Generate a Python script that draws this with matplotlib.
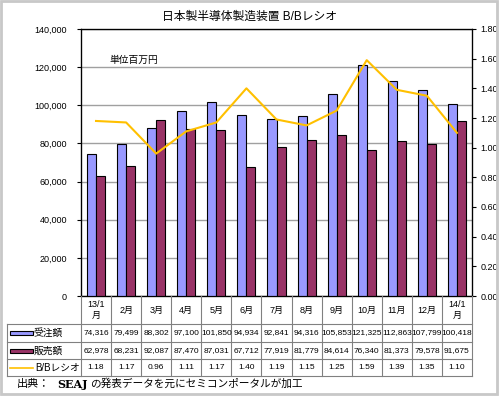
import matplotlib
matplotlib.use("Agg")
from matplotlib import pyplot as plt
from matplotlib.lines import Line2D
from matplotlib.patches import Rectangle
from matplotlib.ticker import MultipleLocator, FuncFormatter

plt.rcParams['font.family'] = ['Liberation Sans', 'Noto Sans CJK JP', 'DejaVu Sans']

months = ['13/1\n月', '2月', '3月', '4月', '5月', '6月', '7月', '8月', '9月',
          '10月', '11月', '12月', '14/1\n月']
orders = [74316, 79499, 88302, 97100, 101850, 94934, 92841, 94316, 105853,
          121325, 112863, 107799, 100418]
sales = [62978, 68231, 92087, 87470, 87031, 67712, 77919, 81779, 84614,
         76340, 81373, 79578, 91675]
bb = [1.18, 1.17, 0.96, 1.11, 1.17, 1.40, 1.19, 1.15, 1.25, 1.59, 1.39, 1.35, 1.10]
series_names = ['受注額', '販売額', 'B/Bレシオ']

blue = '#9999FF'
maroon = '#993366'
gold = '#FFC000'

W, H = 500, 396
fig = plt.figure(figsize=(W / 100, H / 100), dpi=100)
fig.patch.set_facecolor('white')

# plot area in pixels
L, R, T, B = 81, 472, 29, 296
ax = fig.add_axes([L / W, 1 - B / H, (R - L) / W, (B - T) / H])
x = list(range(len(months)))
bw = 0.3
ax.bar([i - bw / 2 for i in x], orders, width=bw, color=blue, edgecolor='black', linewidth=0.8, zorder=3)
ax.bar([i + bw / 2 for i in x], sales, width=bw, color=maroon, edgecolor='black', linewidth=0.8, zorder=3)
ax.set_xlim(-0.5, len(months) - 0.5)
ax.set_ylim(0, 140000)
ax.yaxis.set_major_locator(MultipleLocator(20000))
ax.yaxis.set_major_formatter(FuncFormatter(lambda v, p: f'{int(v):,}'))
ax.grid(axis='y', color='#a0a0a0', linewidth=1.0, zorder=0)
ax.set_xticks([])
ax.tick_params(axis='y', labelsize=6.5, length=3, pad=7)
for s in ax.spines.values():
    s.set_linewidth(0.9)
ax.text(0.45, 124000, '単位百万円', fontsize=7, va='center', ha='left')

ax2 = ax.twinx()
ax2.plot(x, bb, color=gold, linewidth=1.5, zorder=4)
ax2.set_ylim(0, 1.8)
ax2.yaxis.set_major_locator(MultipleLocator(0.2))
ax2.yaxis.set_major_formatter(FuncFormatter(lambda v, p: f'{v:.2f}'))
ax2.tick_params(axis='y', labelsize=6.5, length=3, pad=3)

fig.text(0.5, 1 - 17 / H, '日本製半導体製造装置 B/Bレシオ', fontsize=8.5, ha='center', va='center')


def fx(px):
    return px / W


def fy(py):
    return 1 - py / H


def hline(x0, x1, y, c='#808080'):
    fig.add_artist(Line2D([fx(x0), fx(x1)], [fy(y), fy(y)], color=c, linewidth=0.8))


def vline(xp, y0, y1, c='#808080'):
    fig.add_artist(Line2D([fx(xp), fx(xp)], [fy(y0), fy(y1)], color=c, linewidth=0.8))


# data table below the chart
TL = 7
rows_y = [B, 324, 342, 359, 376]
n = len(months)
cw = (R - L) / n
colx = [L + i * cw for i in range(n + 1)]
for xb in colx:
    vline(xb, B, rows_y[-1])
vline(TL, rows_y[1], rows_y[-1])
for yb in rows_y[1:]:
    hline(TL, R, yb)

for i, m in enumerate(months):
    cx = L + (i + 0.5) * cw
    fig.text(fx(cx), fy((rows_y[0] + rows_y[1]) / 2), m, fontsize=6.5, ha='center', va='center',
             linespacing=1.3)
    fig.text(fx(cx), fy((rows_y[1] + rows_y[2]) / 2), f'{orders[i]:,}', fontsize=6, ha='center', va='center')
    fig.text(fx(cx), fy((rows_y[2] + rows_y[3]) / 2), f'{sales[i]:,}', fontsize=6, ha='center', va='center')
    fig.text(fx(cx), fy((rows_y[3] + rows_y[4]) / 2), f'{bb[i]:.2f}', fontsize=6, ha='center', va='center')

# legend keys in label column
for k, (name, col) in enumerate(zip(series_names[:2], [blue, maroon])):
    yc = (rows_y[k + 1] + rows_y[k + 2]) / 2
    fig.add_artist(Rectangle((fx(10), fy(yc + 2)), (33 - 10) / W, 4 / H, transform=fig.transFigure,
                             facecolor=col, edgecolor='black', linewidth=0.8))
    fig.text(fx(34), fy(yc), name, fontsize=7, ha='left', va='center')
yc = (rows_y[3] + rows_y[4]) / 2
fig.add_artist(Line2D([fx(10), fx(33)], [fy(yc), fy(yc)], color=gold, linewidth=1.2))
fig.text(fx(35), fy(yc), series_names[2], fontsize=7, ha='left', va='center')

# source line
fig.text(fx(17), fy(384), '出典：', fontsize=8, ha='left', va='center')
fig.text(fx(57), fy(384), 'SEAJ', fontsize=8, fontweight='bold', family='DejaVu Serif', ha='left', va='center')
fig.text(fx(90), fy(384), 'の発表データを元にセミコンポータルが加工', fontsize=7.7, ha='left', va='center')

# outer frame
fig.add_artist(Rectangle((0.002, 0.004), 0.992, 0.994, transform=fig.transFigure,
                         fill=False, edgecolor='#c8c8c8', linewidth=2))

fig.savefig('out.png', dpi=100)
